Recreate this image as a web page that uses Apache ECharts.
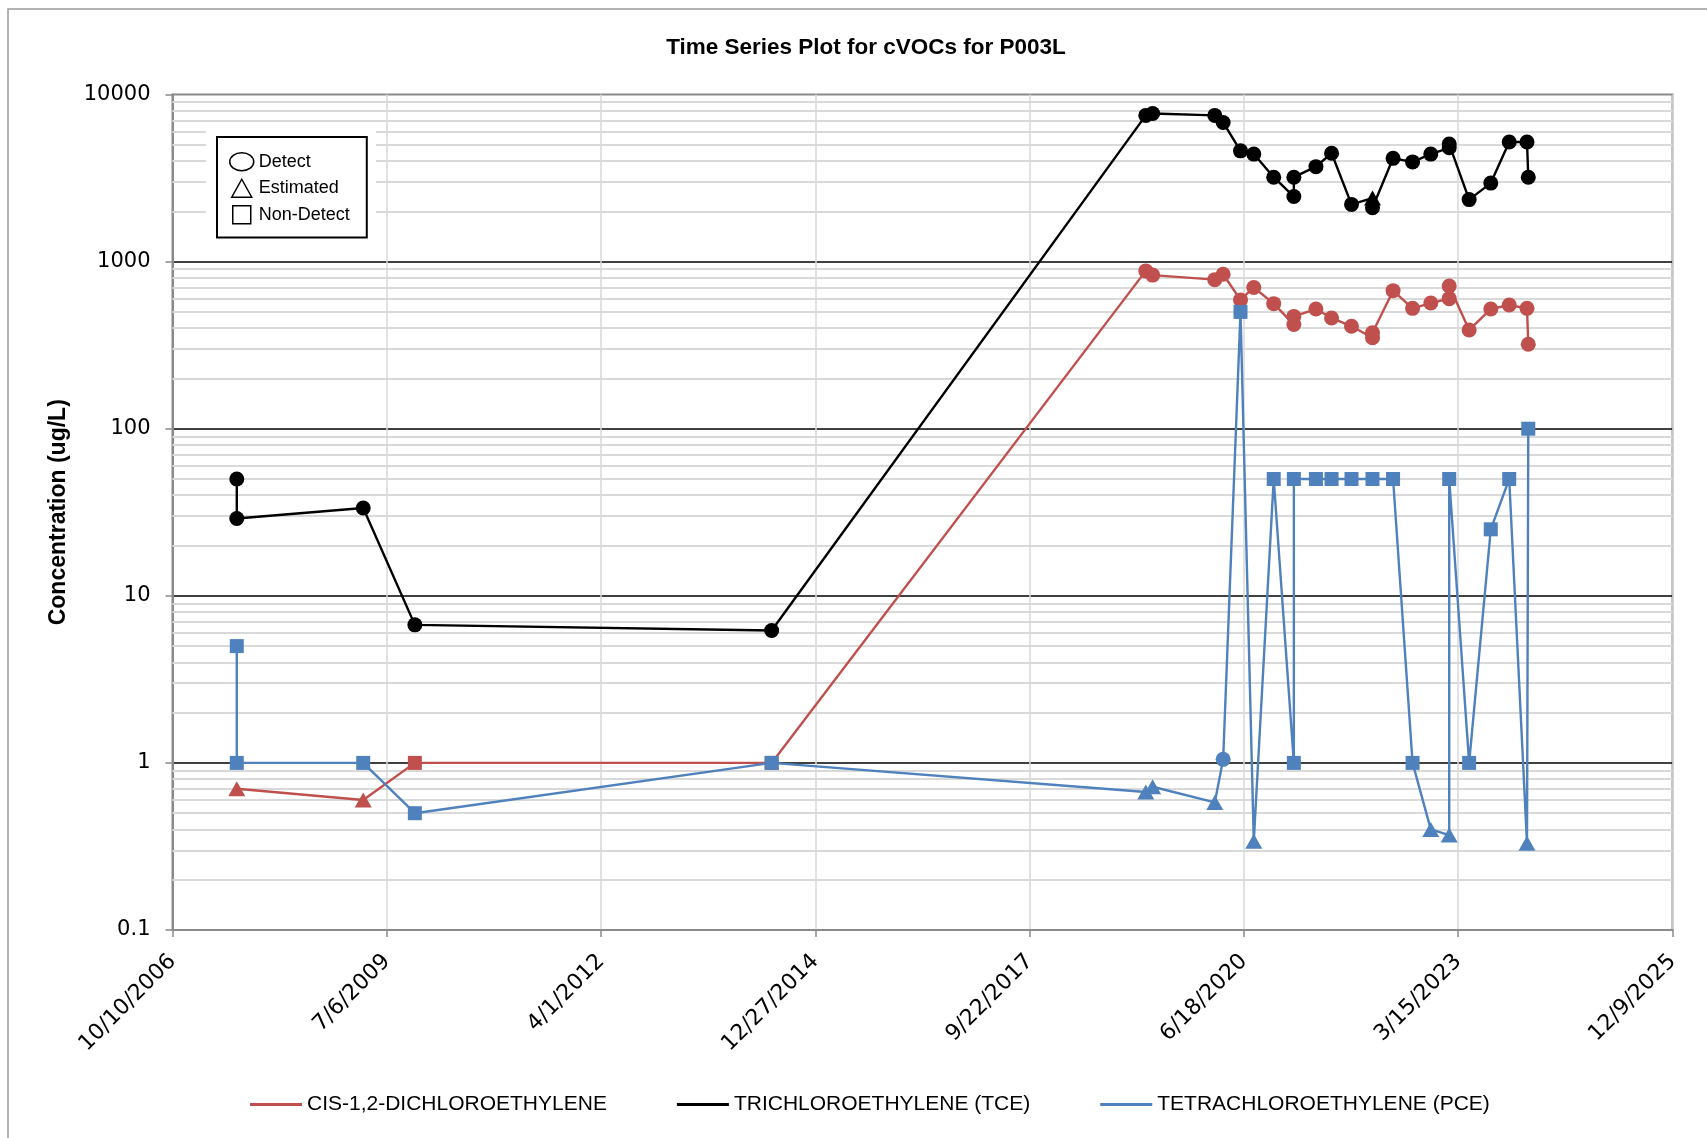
<!DOCTYPE html>
<html>
<head>
<meta charset="utf-8">
<title>Time Series Plot for cVOCs for P003L</title>
<script src="https://cdn.jsdelivr.net/npm/echarts@6/dist/echarts.min.js"></script>
<style>
  html, body { margin: 0; padding: 0; background: #fff; }
  #chart { width: 1707px; height: 1138px; }
</style>
</head>
<body>
<div id="chart"></div>
<script>
// flags: D = detect (circle), E = estimated (triangle), N = non-detect (square)

// CIS-1,2-DICHLOROETHYLENE
const dceDates = ['8/6/2007', '3/18/2009', '11/14/2009', '6/6/2014', '3/18/2019', '4/19/2019',
  '2/3/2020', '3/13/2020', '6/2/2020', '8/3/2020', '11/4/2020', '2/6/2021', '2/6/2021',
  '5/20/2021', '8/1/2021', '11/2/2021', '2/8/2022', '2/8/2022', '5/15/2022', '8/14/2022',
  '11/7/2022', '2/1/2023', '2/1/2023', '5/5/2023', '8/14/2023', '11/8/2023', '1/30/2024', '2/5/2024'];
const dceValues = [0.7, 0.6, 1, 1, 880, 830,
  780, 840, 590, 700, 560, 420, 470,
  520, 460, 410, 350, 375, 670, 525,
  565, 600, 715, 390, 520, 550, 525, 320];
const dceFlags = ['E', 'E', 'N', 'N', 'D', 'D',
  'D', 'D', 'D', 'D', 'D', 'D', 'D',
  'D', 'D', 'D', 'D', 'D', 'D', 'D',
  'D', 'D', 'D', 'D', 'D', 'D', 'D', 'D'];

// TRICHLOROETHYLENE (TCE)
const tceDates = ['8/6/2007', '8/6/2007', '3/18/2009', '11/14/2009', '6/6/2014', '3/18/2019', '4/19/2019',
  '2/3/2020', '3/13/2020', '6/2/2020', '8/3/2020', '11/4/2020', '2/6/2021', '2/6/2021',
  '5/20/2021', '8/1/2021', '11/2/2021', '2/8/2022', '2/8/2022', '5/15/2022', '8/14/2022',
  '11/7/2022', '2/1/2023', '2/1/2023', '5/5/2023', '8/14/2023', '11/8/2023', '1/30/2024', '2/5/2024'];
const tceValues = [50, 29, 33.5, 6.7, 6.2, 7500, 7700,
  7500, 6800, 4600, 4400, 3200, 2450, 3200,
  3700, 4450, 2200, 2400, 2100, 4150, 3950,
  4400, 4800, 5050, 2350, 2950, 5200, 5200, 3200];
const tceFlags = ['D', 'D', 'D', 'D', 'D', 'D', 'D',
  'D', 'D', 'D', 'D', 'D', 'D', 'D',
  'D', 'D', 'D', 'E', 'D', 'D', 'D',
  'D', 'D', 'D', 'D', 'D', 'D', 'D', 'D'];

// TETRACHLOROETHYLENE (PCE)
const pceDates = ['8/6/2007', '8/6/2007', '3/18/2009', '11/14/2009', '6/6/2014', '3/18/2019', '4/19/2019',
  '2/3/2020', '3/13/2020', '6/2/2020', '8/3/2020', '11/4/2020', '2/6/2021', '2/6/2021',
  '5/20/2021', '8/1/2021', '11/2/2021', '2/8/2022', '5/15/2022', '8/14/2022',
  '11/7/2022', '2/1/2023', '2/1/2023', '5/5/2023', '8/14/2023', '11/8/2023', '1/30/2024', '2/5/2024'];
const pceValues = [5, 1, 1, 0.5, 1, 0.67, 0.72,
  0.58, 1.05, 500, 0.34, 50, 1, 50,
  50, 50, 50, 50, 50, 1,
  0.4, 0.37, 50, 1, 25, 50, 0.33, 100];
const pceFlags = ['N', 'N', 'N', 'N', 'N', 'E', 'E',
  'E', 'D', 'N', 'E', 'N', 'N', 'N',
  'N', 'N', 'N', 'N', 'N', 'N',
  'E', 'E', 'N', 'N', 'N', 'N', 'E', 'N'];

const seriesNames = ['CIS-1,2-DICHLOROETHYLENE', 'TRICHLOROETHYLENE (TCE)', 'TETRACHLOROETHYLENE (PCE)'];
const seriesColors = ['#C0504D', '#000000', '#4F81BD'];
const markerNames = ['Detect', 'Estimated', 'Non-Detect'];

// x axis in excel day numbers, 1000 day steps
const xMin = 39000;
const xMax = 46000;
const xStep = 1000;

const DAY = 86400000;
const EPOCH = Date.UTC(1899, 11, 30);

function toSerial(s) {
  const p = s.split('/');
  return Math.round((Date.UTC(+p[2], +p[0] - 1, +p[1]) - EPOCH) / DAY);
}

function fromSerial(n) {
  const d = new Date(EPOCH + n * DAY);
  return (d.getUTCMonth() + 1) + '/' + d.getUTCDate() + '/' + d.getUTCFullYear();
}

const markerShape = { D: 'circle', E: 'triangle', N: 'rect' };
const markerSize = { D: 15, E: [17, 15], N: 14 };

function buildData(dates, values, flags) {
  return dates.map((d, i) => ({
    value: [toSerial(d), values[i]],
    symbol: markerShape[flags[i]],
    symbolSize: markerSize[flags[i]],
  }));
}

// light minor gridlines (2..9 in every decade)
const minorLines = [];
for (let e = -1; e < 4; e++) {
  for (let k = 2; k <= 9; k++) {
    minorLines.push({ yAxis: k * Math.pow(10, e) });
  }
}

const chart = echarts.init(document.getElementById('chart'));

const lineSeries = [
  buildData(dceDates, dceValues, dceFlags),
  buildData(tceDates, tceValues, tceFlags),
  buildData(pceDates, pceValues, pceFlags),
].map((data, i) => ({
  name: seriesNames[i],
  type: 'line',
  data: data,
  color: seriesColors[i],
  showAllSymbol: true,
  lineStyle: { width: 2.4, color: seriesColors[i] },
  itemStyle: { color: seriesColors[i], borderWidth: 0 },
  z: 3 + i,
}));

const option = {
  animation: false,
  backgroundColor: '#fff',
  title: {
    text: 'Time Series Plot for cVOCs for P003L',
    left: 866,
    top: 36,
    padding: 0,
    textAlign: 'center',
    textStyle: { fontFamily: 'Liberation Sans', fontSize: 22.5, fontWeight: 'bold', color: '#000' },
  },
  grid: {
    left: 172.5,
    right: 34.5,
    top: 94.5,
    bottom: 208,
    show: true,
    borderColor: '#8a8a8a',
    borderWidth: 2,
  },
  legend: [
    {
      data: seriesNames,
      left: 245,
      top: 1089,
      icon: 'rect',
      itemWidth: 52,
      itemHeight: 3,
      itemGap: 70,
      selectedMode: false,
      textStyle: { fontFamily: 'Liberation Sans', fontSize: 21, color: '#000' },
    },
    {
      data: [
        { name: 'Detect', icon: 'path://M0,9 A12,9 0 1,1 24,9 A12,9 0 1,1 0,9 Z' },
        { name: 'Estimated', icon: 'path://M10,0 L20,18 L0,18 Z' },
        { name: 'Non-Detect', icon: 'path://M0,0 L18,0 L18,18 L0,18 Z' },
      ],
      orient: 'vertical',
      left: 217,
      top: 137,
      padding: [15, 17, 13, 12],
      itemWidth: 24,
      itemHeight: 18,
      itemGap: 7,
      backgroundColor: '#fff',
      borderColor: '#000',
      borderWidth: 2,
      selectedMode: false,
      z: 10,
      itemStyle: { color: '#fff', borderColor: '#000', borderWidth: 1.5 },
      textStyle: { fontFamily: 'Liberation Sans', fontSize: 18, color: '#000' },
    },
  ],
  graphic: [
    {
      type: 'rect',
      silent: true,
      z: 0,
      shape: { x: 8, y: 9, width: 1760, height: 1200 },
      style: { fill: 'none', stroke: '#9a9a9a', lineWidth: 1.5 },
    },
    {
      // white area round the marker key box
      type: 'rect',
      silent: true,
      z: 8,
      shape: { x: 206, y: 126, width: 170, height: 124 },
      style: { fill: '#fff' },
    },
  ],
  xAxis: {
    type: 'value',
    min: xMin,
    max: xMax,
    interval: xStep,
    axisLine: { lineStyle: { color: '#8a8a8a', width: 2 } },
    axisTick: { show: true, length: 7, lineStyle: { color: '#8a8a8a', width: 1.5 } },
    axisLabel: {
      rotate: 45,
      margin: 28,
      formatter: fromSerial,
      fontFamily: 'DejaVu Sans',
      fontSize: 22,
      color: '#000',
    },
    splitLine: { show: true, lineStyle: { color: '#d9d9d9', width: 1.5 } },
  },
  yAxis: {
    type: 'log',
    logBase: 10,
    min: 0.1,
    max: 10000,
    name: 'Concentration (ug/L)',
    nameLocation: 'middle',
    nameGap: 102,
    nameTextStyle: { fontFamily: 'Liberation Sans', fontSize: 23, fontWeight: 'bold', color: '#000' },
    axisLine: { show: true, lineStyle: { color: '#8a8a8a', width: 2 } },
    axisTick: { show: true, length: 7, lineStyle: { color: '#8a8a8a', width: 1.5 } },
    axisLabel: {
      margin: 22,
      formatter: (v) => String(+Number(v).toPrecision(3)),
      fontFamily: 'DejaVu Sans',
      fontSize: 21,
      color: '#000',
    },
    splitLine: {
      show: true,
      showMinLine: false,
      showMaxLine: false,
      lineStyle: { color: '#000', width: 1.5 },
    },
  },
  series: [
    {
      name: 'minor grid',
      type: 'line',
      data: [],
      silent: true,
      z: 1,
      markLine: {
        silent: true,
        z: 1,
        symbol: 'none',
        label: { show: false },
        lineStyle: { color: '#d9d9d9', width: 2, type: 'solid' },
        data: minorLines,
      },
    },
    ...lineSeries,
    // dummy series for the marker key
    ...markerNames.map((n) => ({ name: n, type: 'line', data: [], color: '#fff' })),
  ],
};

chart.setOption(option);
</script>
</body>
</html>
